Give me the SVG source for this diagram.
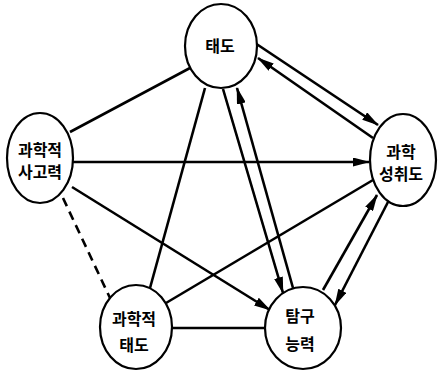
<svg xmlns="http://www.w3.org/2000/svg" width="438" height="373" viewBox="0 0 438 373">
<style>
.n{fill:#fff;stroke:#000;stroke-width:2.2}
.t{font-family:"Noto Sans CJK KR","Noto Sans",sans-serif;font-weight:bold;font-size:16px;text-anchor:middle;fill:#000}
.c line{stroke:#000;stroke-width:2.6;fill:none}
.a{marker-end:url(#ah)}
.d{stroke-dasharray:9,6}
</style>
<defs>
<marker id="ah" markerUnits="userSpaceOnUse" markerWidth="17" markerHeight="9" refX="16" refY="4.5" orient="auto">
<path d="M0,0 L17,4.5 L0,9 z" fill="#000"/>
</marker>
</defs>
<rect width="438" height="373" fill="#fff"/>
<g id="connectors" class="c">
<line x1="190" y1="68" x2="70" y2="132"/>
<line class="a" x1="255" y1="43" x2="378" y2="125"/>
<line class="a" x1="373" y1="138" x2="258" y2="58"/>
<line class="a" x1="73" y1="162" x2="369" y2="162"/>
<line x1="205" y1="88" x2="150" y2="288"/>
<line class="a" x1="223" y1="89" x2="283" y2="293"/>
<line class="a" x1="293" y1="288" x2="237" y2="88"/>
<line class="a" x1="72" y1="187" x2="270" y2="310"/>
<line class="d" x1="63" y1="198" x2="110" y2="298"/>
<line x1="166" y1="303" x2="373" y2="180"/>
<line x1="172" y1="328" x2="266" y2="328"/>
<line class="a" x1="323" y1="290" x2="377" y2="195"/>
<line class="a" x1="388" y1="202" x2="335" y2="305"/>
</g>
<g id="taedo">
<ellipse class="n" cx="221" cy="46" rx="36" ry="42"/>
<text class="t" x="220" y="52">태도</text>
</g>
<g id="sagoryeok">
<ellipse class="n" cx="40" cy="158" rx="33" ry="45"/>
<text class="t" x="40" y="156">과학적</text>
<text class="t" x="40" y="178">사고력</text>
</g>
<g id="seongchwido">
<ellipse class="n" cx="403" cy="160" rx="33" ry="46"/>
<text class="t" x="401" y="158">과학</text>
<text class="t" x="401" y="180">성취도</text>
</g>
<g id="gwahakjeok-taedo">
<ellipse class="n" cx="136" cy="327" rx="36" ry="42"/>
<text class="t" x="134" y="325">과학적</text>
<text class="t" x="134" y="351">태도</text>
</g>
<g id="tamgu">
<ellipse class="n" cx="303" cy="328" rx="38" ry="41"/>
<text class="t" x="300" y="322">탐구</text>
<text class="t" x="300" y="350">능력</text>
</g>
</svg>
